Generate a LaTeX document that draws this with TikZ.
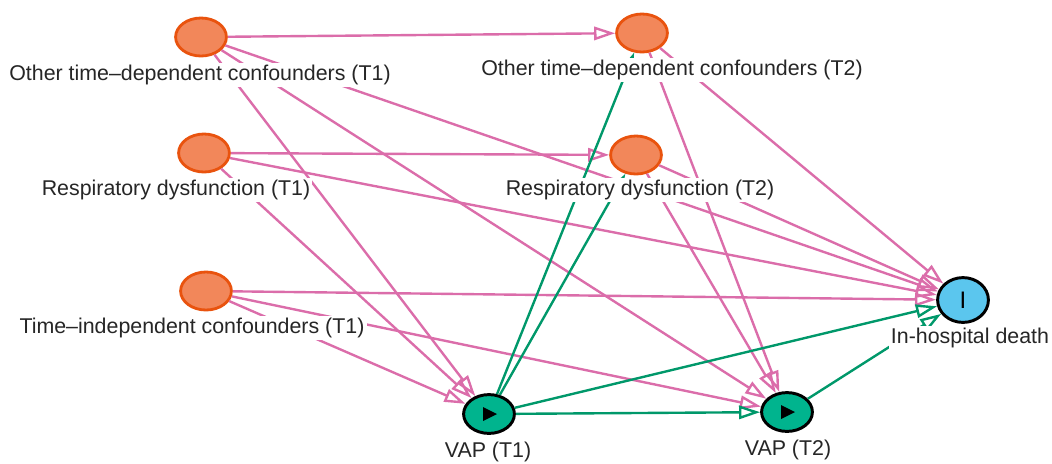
\documentclass[tikz,border=0pt]{standalone}
\usepackage{fontspec}
\setmainfont{Liberation Sans}
\usepackage{xcolor}
\usetikzlibrary{arrows.meta,shapes.geometric}

\definecolor{confcol}{HTML}{F2875A}
\definecolor{confline}{HTML}{E9530E}
\definecolor{vapcol}{HTML}{00B48E}
\definecolor{deathcol}{HTML}{5BC6EE}
\definecolor{biascol}{HTML}{DB6DAA}
\definecolor{causcol}{HTML}{00986A}

\begin{document}
\begin{tikzpicture}[
  x=0.025cm, y=-0.025cm,
  conf/.style={ellipse, draw=confline, fill=confcol, line width=2pt,
               inner sep=0pt, minimum width=1.27cm, minimum height=0.95cm},
  expo/.style={ellipse, draw=black, fill=vapcol, line width=2.1pt,
               inner sep=0pt, minimum width=1.27cm, minimum height=0.97cm},
  outc/.style={ellipse, draw=black, fill=deathcol, line width=2.1pt,
               inner sep=0pt, minimum width=1.27cm, minimum height=1.12cm,
               font=\fontsize{17}{20}\selectfont},
  lbl/.style={fill=white, inner sep=1.5pt, text=black!85,
              font=\fontsize{15.2}{18}\selectfont},
  barr/.style={-{Triangle[open, length=15pt, width=9.5pt]}, line width=1.7pt,
               draw=biascol},
  carr/.style={-{Triangle[open, length=15pt, width=9.5pt]}, line width=1.7pt,
               draw=causcol},
]
\useasboundingbox (0,0) rectangle (1052,463);

%% Column T1 — confounders
\node[conf] (otc1)  at (201,37)  {};
\node[conf] (resp1) at (204,153) {};
\node[conf] (tic1)  at (206,291) {};

%% Column T2 — confounders
\node[conf] (otc2)  at (642,33)  {};
\node[conf] (resp2) at (636,155) {};

%% Bottom row — exposures, and the outcome on the right
\node[expo] (vap1)  at (489,414) {};
\node[expo] (vap2)  at (787,412) {};
\node[outc] (death) at (963,300) {I};

%% play marks inside the exposures
\fill[black] (vap1.center) ++(-6,-7) -- ++(14,7) -- ++(-14,7) -- cycle;
\fill[black] (vap2.center) ++(-6,-7) -- ++(14,7) -- ++(-14,7) -- cycle;

%% ── Biasing arrows ──────────────────────────────────────────────────────
\draw[barr] (otc1) -- (otc2);
\draw[barr] (otc1) -- (vap1);
\draw[barr] (otc1) -- (vap2);
\draw[barr] (otc1) -- (death);

\draw[barr] (resp1) -- (resp2);
\draw[barr] (resp1) -- (vap1);
\draw[barr] (resp1) -- (death);

\draw[barr] (tic1) -- (vap1);
\draw[barr] (tic1) -- (vap2);
\draw[barr] (tic1) -- (death);

\draw[barr] (otc2) -- (vap2);
\draw[barr] (otc2) -- (death);

\draw[barr] (resp2) -- (vap2);
\draw[barr] (resp2) -- (death);

%% ── Causal arrows ───────────────────────────────────────────────────────
\draw[carr] (vap1) -- (otc2);
\draw[carr] (vap1) -- (resp2);
\draw[carr] (vap1) -- (vap2);
\draw[carr] (vap1) -- (death);
\draw[carr] (vap2) -- (death);

%% Labels last, so their white ground hides the lines behind them
\node[lbl] (otc1lbl)  at (200,75)  {Other time–dependent confounders (T1)};
\node[lbl] (otc2lbl)  at (672,70)  {Other time–dependent confounders (T2)};
\node[lbl] (resp1lbl) at (176,190) {Respiratory dysfunction (T1)};
\node[lbl] (resp2lbl) at (640,190) {Respiratory dysfunction (T2)};
\node[lbl] (tic1lbl)  at (192,328) {Time–independent confounders (T1)};
\node[lbl] (vap1lbl)  at (488,452) {VAP (T1)};
\node[lbl] (vap2lbl)  at (788,450) {VAP (T2)};
\node[lbl] (deathlbl) at (970,338) {In-hospital death};

\end{tikzpicture}
\end{document}
